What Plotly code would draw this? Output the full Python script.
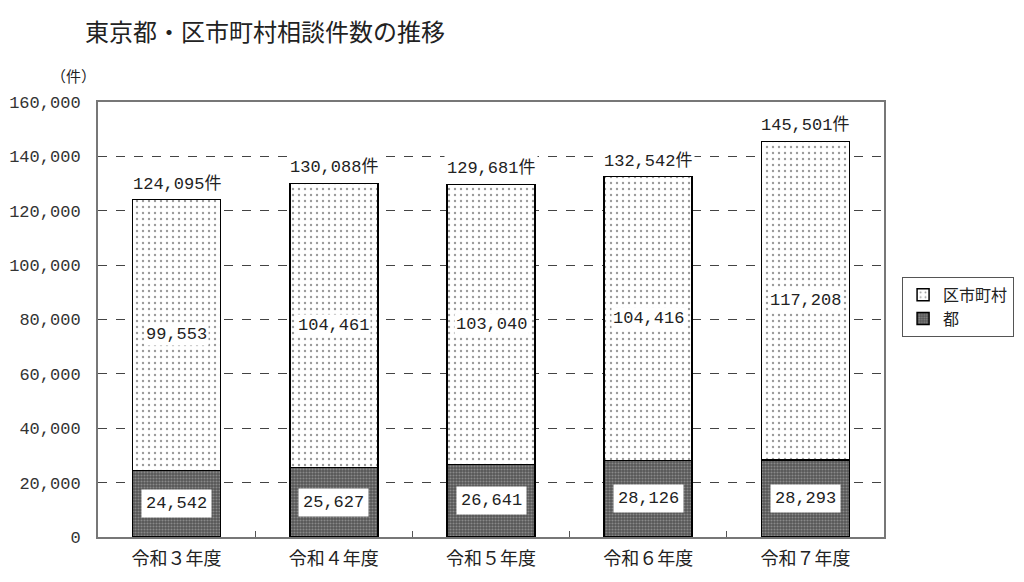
import plotly.graph_objects as go

# 年度ごとの相談件数
years = ["令和３年度", "令和４年度", "令和５年度", "令和６年度", "令和７年度"]
to_counts = [24542, 25627, 26641, 28126, 28293]          # 都
kushi_counts = [99553, 104461, 103040, 104416, 117208]   # 区市町村
totals = [124095, 130088, 129681, 132542, 145501]

FONT = "Noto Sans CJK JP"
NUM_FONT = "Liberation Mono, Noto Sans CJK JP"

fig = go.Figure()

fig.add_trace(go.Bar(
    x=years, y=to_counts, name="都",
    width=0.56,
    marker=dict(
        color="#6a6a6a",
        line=dict(color="black", width=1.5),
        pattern=dict(shape=".", fgcolor="#bdbdbd", bgcolor="#555555", size=3, solidity=0.4),
    ),
))
fig.add_trace(go.Bar(
    x=years, y=kushi_counts, name="区市町村",
    width=0.56,
    marker=dict(
        color="white",
        line=dict(color="black", width=1.5),
        pattern=dict(shape=".", fgcolor="#333333", bgcolor="white", size=6, solidity=0.12),
    ),
))

annotations = []
for yr, a, b, t in zip(years, to_counts, kushi_counts, totals):
    annotations.append(dict(
        x=yr, y=a / 2, text=f"{a:,}", showarrow=False,
        font=dict(family=NUM_FONT, size=17, color="#222"),
        bgcolor="white", borderpad=4,
    ))
    annotations.append(dict(
        x=yr, y=a + b / 2, text=f"{b:,}", showarrow=False,
        font=dict(family=NUM_FONT, size=17, color="#222"),
        bgcolor="white", borderpad=1,
    ))
    annotations.append(dict(
        x=yr, y=t, text=f"{t:,}件", showarrow=False, yanchor="bottom", yshift=3,
        font=dict(family=NUM_FONT, size=17, color="#222"),
        bgcolor="white", borderpad=2,
    ))

annotations.append(dict(
    xref="paper", yref="paper", x=0.0, y=1, xanchor="right", yanchor="bottom", yshift=14,
    text="（件）", showarrow=False, font=dict(family=FONT, size=15, color="#222"),
))

fig.update_layout(
    width=1008, height=566,
    barmode="stack",
    bargap=0.44,
    plot_bgcolor="white", paper_bgcolor="white",
    margin=dict(l=90, r=132, t=94, b=37, autoexpand=False),
    title=dict(
        text="東京都・区市町村相談件数の推移",
        x=77 / 1008, xanchor="left", y=1 - 25 / 566, yanchor="middle",
        font=dict(family=FONT, size=24, color="#222"),
    ),
    font=dict(family=FONT, size=16, color="#222"),
    legend=dict(
        x=1.023, y=0.598, xanchor="left", yanchor="top",
        traceorder="reversed",
        bordercolor="#555", borderwidth=1,
        font=dict(family=FONT, size=16, color="#222"),
        itemwidth=30,
    ),
    annotations=annotations,
    showlegend=True,
)

fig.update_xaxes(
    automargin=False,
    showline=True, linecolor="#777", linewidth=2, mirror=True,
    ticks="inside", tickson="boundaries", ticklen=6, tickcolor="#555",
    tickfont=dict(family=FONT, size=18, color="#222"),
    ticklabelstandoff=4,
    showgrid=False,
)
fig.update_yaxes(
    automargin=False,
    range=[0, 160000], dtick=20000, tickformat=",d",
    showline=True, linecolor="#777", linewidth=2, mirror=True,
    showgrid=True, gridcolor="#444", griddash="dash", gridwidth=1,
    zeroline=False, ticks="", ticklabelstandoff=12,
    tickfont=dict(family=NUM_FONT, size=17, color="#333"),
)

fig.write_html("out.html")
